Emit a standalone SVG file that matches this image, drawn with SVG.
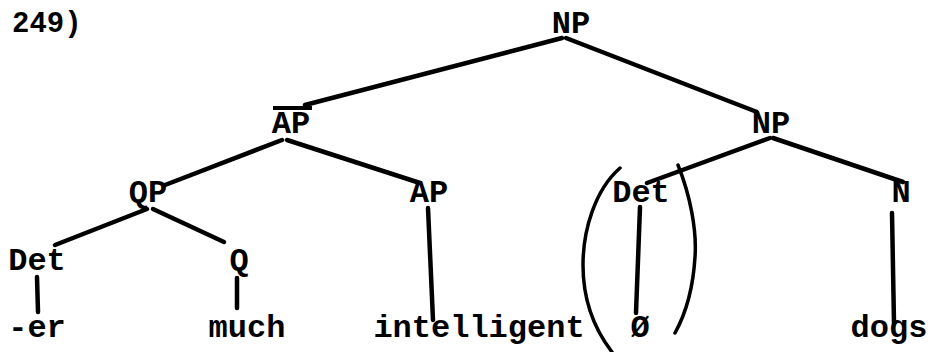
<svg xmlns="http://www.w3.org/2000/svg" width="931" height="352" viewBox="0 0 931 352">
<style>
text{font-family:"Liberation Mono","DejaVu Sans Mono",monospace;font-weight:bold;font-size:32px;fill:#000;text-anchor:middle}
.e{stroke:#000;stroke-width:4.5;stroke-linecap:round;fill:none}
.p{stroke:#000;stroke-width:3.5;stroke-linecap:round;fill:none}
</style>
<rect width="931" height="352" fill="#fff"/>
<text x="12" y="32" style="text-anchor:start;font-size:29px">249)</text>
<g id="connectors">
<line class="e" x1="562" y1="38" x2="305" y2="105"/>
<line class="e" x1="566" y1="38" x2="757" y2="112"/>
<line class="e" x1="282" y1="140" x2="165" y2="185"/>
<line class="e" x1="287" y1="140" x2="420" y2="183"/>
<line class="e" x1="147" y1="209" x2="55" y2="245"/>
<line class="e" x1="153" y1="209" x2="224" y2="242"/>
<line class="e" x1="37" y1="277" x2="38" y2="312"/>
<line class="e" x1="237" y1="278" x2="237" y2="308"/>
<line class="e" x1="428" y1="208" x2="433" y2="320"/>
<line class="e" x1="770" y1="138" x2="647" y2="183"/>
<line class="e" x1="773" y1="138" x2="903" y2="182"/>
<line class="e" x1="640" y1="207" x2="636" y2="313"/>
<line class="e" x1="892" y1="213" x2="894" y2="323"/>
</g>
<g id="parens">
<path class="p" d="M620,168 C595,190 583,230 583,265 C583,300 595,330 612,352"/>
<path class="p" d="M678,165 C690,195 697,230 695,257 C693,290 685,315 675,333"/>
</g>
<g id="n-np-top"><text x="571" y="33">NP</text></g>
<g id="n-apbar"><text x="291" y="133">AP</text><line x1="273" y1="108" x2="312" y2="108" stroke="#000" stroke-width="4"/></g>
<g id="n-np-right"><text x="771" y="133">NP</text></g>
<g id="n-qp"><text x="148" y="202">QP</text></g>
<g id="n-ap"><text x="429" y="202">AP</text></g>
<g id="n-det-right"><text x="641" y="202">Det</text></g>
<g id="n-n"><text x="901" y="202">N</text></g>
<g id="n-det-left"><text x="37" y="270">Det</text></g>
<g id="n-q"><text x="239" y="270">Q</text></g>
<g id="n-er"><text x="37" y="337">-er</text></g>
<g id="n-much"><text x="247" y="337">much</text></g>
<g id="n-intelligent"><text x="479" y="337">intelligent</text></g>
<g id="n-null"><text x="640" y="337">Ø</text></g>
<g id="n-dogs"><text x="889" y="337">dogs</text></g>
</svg>
